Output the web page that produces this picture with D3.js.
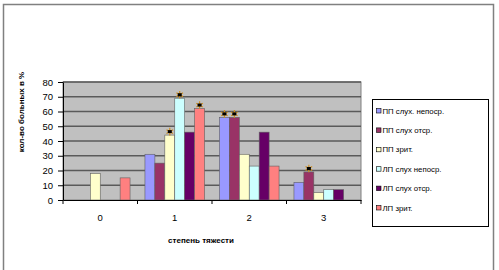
<!DOCTYPE html>
<html>
<head>
<meta charset="utf-8">
<script src="https://cdn.jsdelivr.net/npm/d3@7"></script>
<style>
  body { margin: 0; background: #fff; }
  text { font-family: "Liberation Sans", Arial, sans-serif; }
</style>
</head>
<body>
<div id="chart"></div>
<script>
// categories and series
var categories = ["0", "1", "2", "3"];
var seriesNames = ["ПП слух. непоср.", "ПП слух отср.", "ПП зрит.", "ЛП слух непоср.", "ЛП слух отср.", "ЛП зрит."];
var seriesColors = ["#9999ff", "#993366", "#ffffcc", "#ccffff", "#660066", "#ff8080"];
var ppHearDirect = [0, 31, 56, 12];
var ppHearDelayed = [0, 25, 56, 19];
var ppVisual = [18, 44, 31, 5];
var lpHearDirect = [0, 69, 23, 7];
var lpHearDelayed = [0, 46, 46, 7];
var lpVisual = [15, 62, 23, 0];
// which bars carry the * mark [series, category]
var marked = [[2, 1], [3, 1], [5, 1], [0, 2], [1, 2], [1, 3]];
var yTicks = [0, 10, 20, 30, 40, 50, 60, 70, 80];

var allSeries = [ppHearDirect, ppHearDelayed, ppVisual, lpHearDirect, lpHearDelayed, lpVisual];

function render() {
    const width = 499, height = 270;
    const plot = { left: 63, right: 361, top: 82, bottom: 200 };

    const svg = d3.select("#chart").append("svg")
        .attr("width", width)
        .attr("height", height);

    // outer frame
    svg.append("path")
        .attr("d", "M3.5,270 V4.5 H493.5 V270")
        .attr("fill", "none")
        .attr("stroke", "#808080")
        .attr("stroke-width", 1.5);

    const x0 = d3.scaleBand().domain(categories).range([plot.left, plot.right]);
    // gap width 150%: bar = band / 7.5, outer gap = 0.75 bar
    const barW = x0.bandwidth() / 7.5;
    const y = d3.scaleLinear().domain([0, 80]).range([plot.bottom, plot.top]);

    svg.append("rect")
        .attr("x", plot.left).attr("y", plot.top)
        .attr("width", plot.right - plot.left).attr("height", plot.bottom - plot.top)
        .attr("fill", "#c0c0c0")
        .attr("stroke", "#808080");

    // grid
    svg.append("g").selectAll("line")
        .data(yTicks.filter(d => d > 0)).enter()
        .append("line")
        .attr("x1", plot.left).attr("x2", plot.right)
        .attr("y1", d => y(d)).attr("y2", d => y(d))
        .attr("stroke", "#5a5a5a")
        .attr("stroke-width", 1.3);

    // bars
    const barData = [];
    allSeries.forEach((vals, s) => vals.forEach((v, c) => { if (v > 0) barData.push({ s, c, v }); }));
    svg.append("g").selectAll("rect")
        .data(barData).enter()
        .append("rect")
        .attr("x", d => x0(categories[d.c]) + barW * (0.75 + d.s))
        .attr("y", d => y(d.v))
        .attr("width", barW)
        .attr("height", d => plot.bottom - y(d.v))
        .attr("fill", d => seriesColors[d.s])
        .attr("stroke", "#606060")
        .attr("stroke-width", 0.6);

    // star marks
    const starG = svg.append("g");
    marked.forEach(([s, c]) => {
        const cx = x0(categories[c]) + barW * (1.25 + s);
        const cy = y(allSeries[s][c]) - 3.5;
        starG.append("path")
            .attr("transform", `translate(${cx},${cy})`)
            .attr("d", d3.symbol().type(d3.symbolAsterisk).size(40))
            .attr("stroke", "#d09020")
            .attr("stroke-width", 1.2);
        starG.append("rect")
            .attr("x", cx - 2).attr("y", cy - 1.5)
            .attr("width", 4).attr("height", 3)
            .attr("fill", "#000");
    });

    // y axis
    const ya = svg.append("g")
        .attr("transform", `translate(${plot.left},0)`)
        .call(d3.axisLeft(y).tickValues(yTicks).tickSize(5).tickSizeOuter(0));
    ya.select(".domain").attr("stroke", "#000");
    ya.selectAll("line").attr("stroke", "#000");
    ya.selectAll("text").attr("font-size", "9.5px").attr("x", -10).attr("fill", "#000")
        .style("font-family", "Liberation Sans, Arial, sans-serif");

    // x axis
    const xa = svg.append("g")
        .attr("transform", `translate(0,${plot.bottom})`)
        .call(d3.axisBottom(x0).tickSize(0));
    xa.select(".domain").attr("stroke", "#000");
    xa.selectAll("text").attr("font-size", "9.5px").attr("dy", "1.9em")
        .style("font-family", "Liberation Sans, Arial, sans-serif");
    xa.selectAll(".sep")
        .data(d3.range(categories.length + 1)).enter()
        .append("line")
        .attr("x1", i => plot.left + i * x0.bandwidth())
        .attr("x2", i => plot.left + i * x0.bandwidth())
        .attr("y1", 0).attr("y2", 4)
        .attr("stroke", "#000");

    // axis titles
    svg.append("text")
        .attr("transform", "translate(24,112) rotate(-90)")
        .attr("text-anchor", "middle")
        .attr("font-size", "8px")
        .attr("font-weight", "bold")
        .text("кол-во больных в %");

    svg.append("text")
        .attr("x", 201).attr("y", 243)
        .attr("text-anchor", "middle")
        .attr("font-size", "8px")
        .attr("font-weight", "bold")
        .text("степень тяжести");

    // legend
    const lg = svg.append("g");
    lg.append("rect")
        .attr("x", 372.5).attr("y", 99.5)
        .attr("width", 116).attr("height", 127)
        .attr("fill", "#fff")
        .attr("stroke", "#000");
    seriesNames.forEach((name, i) => {
        const ly = 111 + i * 19.4;
        lg.append("rect")
            .attr("x", 376.5).attr("y", ly - 2.5)
            .attr("width", 4.5).attr("height", 4.5)
            .attr("fill", seriesColors[i])
            .attr("stroke", "#000").attr("stroke-width", 0.6);
        lg.append("text")
            .attr("x", 382.5).attr("y", ly + 2.5)
            .attr("font-size", "7.8px")
            .text(name);
    });
}

render();
</script>
</body>
</html>
